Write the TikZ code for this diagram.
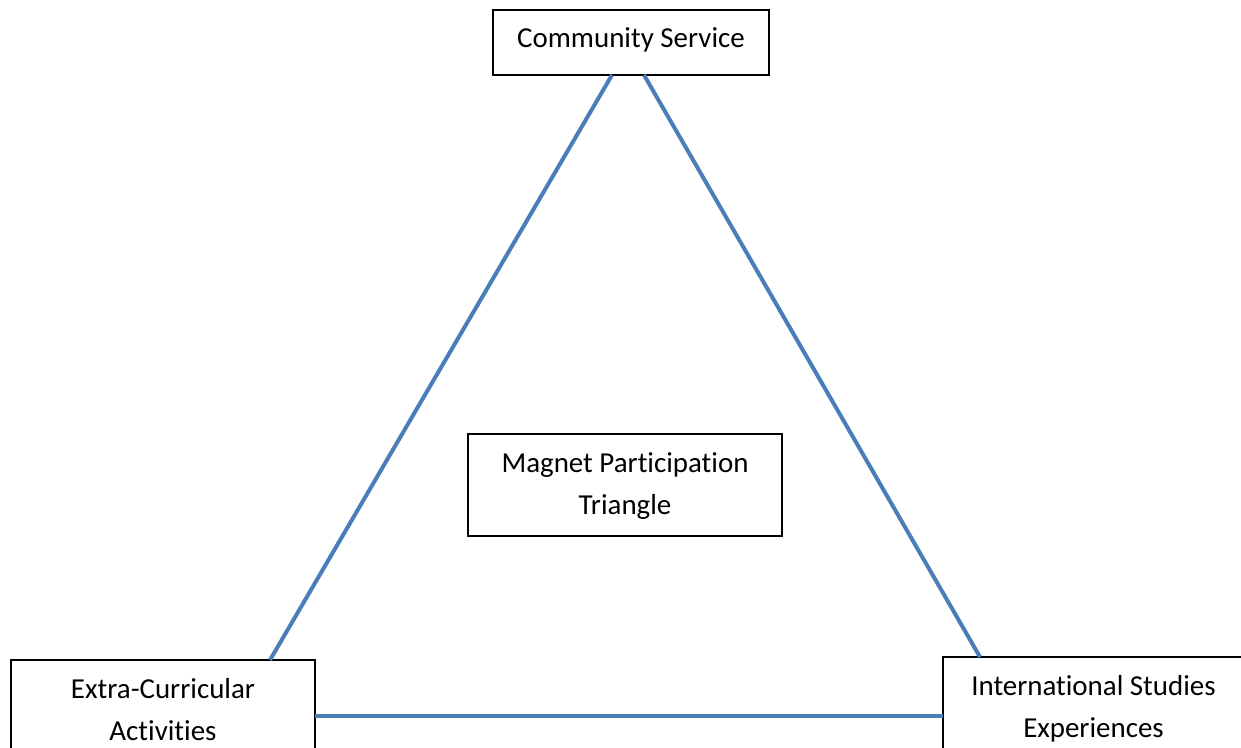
\documentclass[tikz,border=0pt]{standalone}
\usepackage{fontspec}
\setmainfont{Carlito}[Ligatures=NoCommon]
\usetikzlibrary{calc}
\definecolor{lineblue}{HTML}{4A7EBB}
\tikzset{
  box/.style={draw=black, line width=1.5pt, fill=white, anchor=north, align=center,
    inner xsep=0pt, inner ysep=0pt, outer sep=0pt,
    font=\fontsize{21.7pt}{31.5pt}\selectfont},
  plain/.style={anchor=north, align=center, inner xsep=0pt, inner ysep=0pt, outer sep=0pt,
    font=\fontsize{21.7pt}{31.5pt}\selectfont},
  edge/.style={draw=black, line width=1.5pt},
  link/.style={draw=lineblue, line width=3pt}
}
\begin{document}
\begin{tikzpicture}[x=0.75pt,y=-0.75pt]
\useasboundingbox (0,0) rectangle (1241,748);
\node[box, minimum width=207pt, text height=28.5pt, text depth=20.25pt] (cs) at (631,10) {Community Service};
\node[box, minimum width=235.5pt, text height=60pt, text depth=16.5pt] (mp) at (625,434) {Magnet Participation\\Triangle};
\node[box, minimum width=228pt, text height=60pt, text depth=43.5pt] (ec) at (163,660) {Extra-Curricular\\Activities};
\node[plain, minimum width=225.75pt, text height=60pt, text depth=43.5pt] (is) at (1093.5,657) {International Studies\\Experiences};
\draw[edge] (is.north east) -- (is.north west) -- (is.south west);
\draw[link] ($(cs.south)+(-19,0)$) -- ($(ec.north)+(107,0)$);
\draw[link] ($(cs.south)+(13,0)$) -- ($(is.north west)+(37,0)$);
\draw[link] ($(ec.north east)+(0,56)$) -- ($(is.north west)+(0,59)$);
\end{tikzpicture}
\end{document}
